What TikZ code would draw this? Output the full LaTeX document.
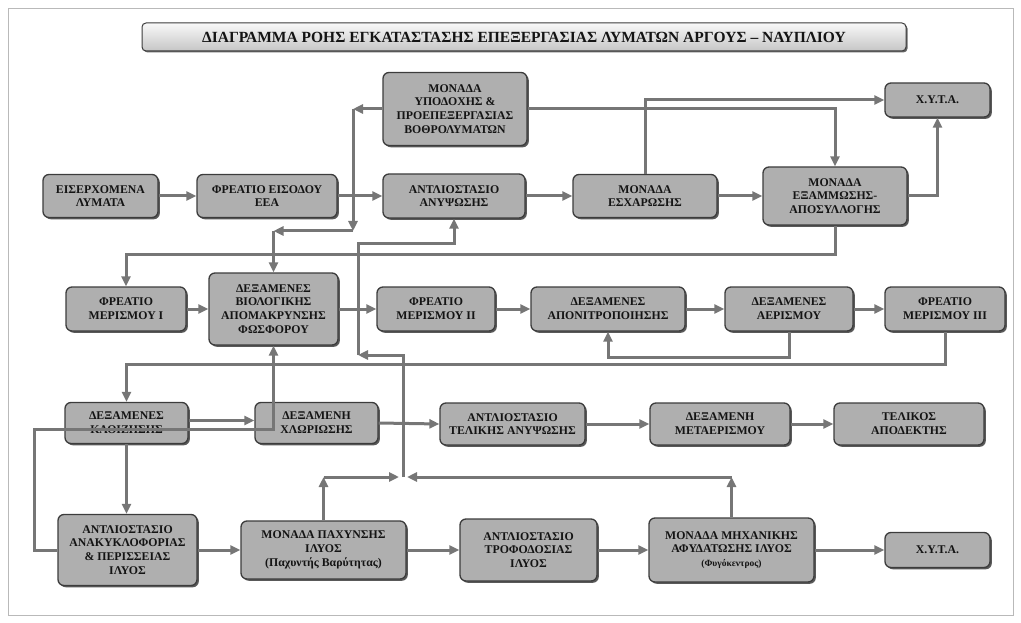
\documentclass[tikz,border=0pt]{standalone}
\usepackage{fontspec}
\setmainfont{Liberation Serif}
\usetikzlibrary{arrows.meta,shadows,calc}
\definecolor{boxfill}{RGB}{175,175,175}
\definecolor{boxdraw}{RGB}{60,60,60}
\definecolor{linecol}{RGB}{118,118,118}
\definecolor{txtcol}{RGB}{20,20,20}
\tikzset{
  procbox/.style={draw=boxdraw, line width=1.3pt, fill=boxfill, rounded corners=6pt,
    drop shadow={shadow xshift=1.8pt,shadow yshift=-1.8pt,fill=black!65,opacity=1},
    align=center, font=\bfseries\fontsize{11.8}{13.8}\selectfont, text=txtcol, inner sep=2pt},
  titlebox/.style={draw=boxdraw, line width=1pt, rounded corners=4pt, top color=gray!5, bottom color=gray!45,
    drop shadow={shadow xshift=1.5pt,shadow yshift=-1.5pt,fill=black!60,opacity=1},
    font=\bfseries\fontsize{15.5}{16}\selectfont, text=txtcol},
  conn/.style={draw=linecol, line width=3pt, -{Triangle[length=10pt,width=9pt]}},
  frameline/.style={draw=gray!55, line width=0.6pt},
}
\newcommand\mybox[6]{\node[procbox,minimum width=#4pt,minimum height=#5pt] (#1) at (#2,#3) {#6};}
\begin{document}
\begin{tikzpicture}[x=1pt,y=-1pt]
\useasboundingbox (0,0) rectangle (1021,623);
\draw[frameline] (8,8) rectangle (1013,615);
\node[titlebox, minimum width=764pt, minimum height=28pt] (title) at (524,37)
  {ΔΙΑΓΡΑΜΜΑ ΡΟΗΣ ΕΓΚΑΤΑΣΤΑΣΗΣ ΕΠΕΞΕΡΓΑΣΙΑΣ ΛΥΜΑΤΩΝ ΑΡΓΟΥΣ – ΝΑΥΠΛΙΟΥ};
% row 1
\mybox{in}{100.5}{196}{115}{43}{ΕΙΣΕΡΧΟΜΕΝΑ\\ΛΥΜΑΤΑ}
\mybox{fre}{267}{196}{140}{43}{ΦΡΕΑΤΙΟ ΕΙΣΟΔΟΥ\\ΕΕΑ}
\mybox{ant}{454}{196}{142}{44}{ΑΝΤΛΙΟΣΤΑΣΙΟ\\ΑΝΥΨΩΣΗΣ}
\mybox{esx}{645}{196}{144}{43}{ΜΟΝΑΔΑ\\ΕΣΧΑΡΩΣΗΣ}
\mybox{exa}{835}{196}{144}{58}{ΜΟΝΑΔΑ\\ΕΞΑΜΜΩΣΗΣ-\\ΑΠΟΣΥΛΛΟΓΗΣ}
\mybox{xyta1}{937.5}{100}{105}{34}{Χ.Υ.Τ.Α.}
\mybox{ypo}{455}{109}{144}{73}{ΜΟΝΑΔΑ\\ΥΠΟΔΟΧΗΣ \&\\ΠΡΟΕΠΕΞΕΡΓΑΣΙΑΣ\\ΒΟΘΡΟΛΥΜΑΤΩΝ}
% row 2
\mybox{mer1}{126}{309}{120}{44}{ΦΡΕΑΤΙΟ\\ΜΕΡΙΣΜΟΥ I}
\mybox{bio}{273.5}{309}{129}{72}{ΔΕΞΑΜΕΝΕΣ\\ΒΙΟΛΟΓΙΚΗΣ\\ΑΠΟΜΑΚΡΥΝΣΗΣ\\ΦΩΣΦΟΡΟΥ}
\mybox{mer2}{436}{309}{118}{44}{ΦΡΕΑΤΙΟ\\ΜΕΡΙΣΜΟΥ II}
\mybox{apon}{608}{309}{154}{44}{ΔΕΞΑΜΕΝΕΣ\\ΑΠΟΝΙΤΡΟΠΟΙΗΣΗΣ}
\mybox{aer}{789}{309}{128}{44}{ΔΕΞΑΜΕΝΕΣ\\ΑΕΡΙΣΜΟΥ}
\mybox{mer3}{945}{309}{120}{44}{ΦΡΕΑΤΙΟ\\ΜΕΡΙΣΜΟΥ III}
% row 3
\mybox{kath}{126.5}{423}{123}{41}{ΔΕΞΑΜΕΝΕΣ\\ΚΑΘΙΖΗΣΗΣ}
\mybox{xlo}{316.5}{423}{123}{41}{ΔΕΞΑΜΕΝΗ\\ΧΛΩΡΙΩΣΗΣ}
\mybox{tel}{512.5}{424}{145}{42}{ΑΝΤΛΙΟΣΤΑΣΙΟ\\ΤΕΛΙΚΗΣ ΑΝΥΨΩΣΗΣ}
\mybox{meta}{720}{424}{140}{42}{ΔΕΞΑΜΕΝΗ\\ΜΕΤΑΕΡΙΣΜΟΥ}
\mybox{apod}{909}{424}{150}{42}{ΤΕΛΙΚΟΣ\\ΑΠΟΔΕΚΤΗΣ}
% row 4
\mybox{anak}{127.5}{550}{139}{71}{ΑΝΤΛΙΟΣΤΑΣΙΟ\\ΑΝΑΚΥΚΛΟΦΟΡΙΑΣ\\\& ΠΕΡΙΣΣΕΙΑΣ\\ΙΛΥΟΣ}
\mybox{pax}{323.5}{550}{165}{58}{ΜΟΝΑΔΑ ΠΑΧΥΝΣΗΣ\\ΙΛΥΟΣ\\(Παχυντής Βαρύτητας)}
\mybox{trof}{528.5}{550}{137}{62}{ΑΝΤΛΙΟΣΤΑΣΙΟ\\ΤΡΟΦΟΔΟΣΙΑΣ\\ΙΛΥΟΣ}
\mybox{mix}{731.5}{550}{165}{64}{ΜΟΝΑΔΑ ΜΗΧΑΝΙΚΗΣ\\ΑΦΥΔΑΤΩΣΗΣ ΙΛΥΟΣ\\{\fontsize{9.5}{12}\selectfont (Φυγόκεντρος)}}
\mybox{xyta2}{937.5}{550}{105}{35}{Χ.Υ.Τ.Α.}
% coordinates
\coordinate (a1) at (353,109);
\coordinate (a2) at (353,231);
\coordinate (a3) at (273.5,231);
\coordinate (j) at (403,477);
\coordinate (r1) at (403,355);
\coordinate (r2) at (358,355);
\coordinate (r3) at (358,243);
% row 1 connectors
\draw[conn] (in.east) -- (fre.west);
\draw[conn] (fre.east) -- (ant.west);
\draw[conn] (ant.east) -- (esx.west);
\draw[conn] (esx.east) -- (exa.west);
\draw[conn] (exa.east) -| (xyta1.south);
\draw[conn] (esx.north) |- (xyta1.west);
\draw[conn] (ypo.east) -| (exa.north);
\draw[conn] (ypo.west) -- (a1);
\draw[conn] (a1) -- (a2);
\draw[conn] (a2) -- (a3);
\draw[conn] (a3) -- (bio.north);
\draw[conn] (exa.south) -- (835,254) -| (mer1.north);
% row 2 connectors
\draw[conn] (mer1.east) -- (bio.west);
\draw[conn] (bio.east) -- (mer2.west);
\draw[conn] (mer2.east) -- (apon.west);
\draw[conn] (apon.east) -- (aer.west);
\draw[conn] (aer.east) -- (mer3.west);
\draw[conn] (aer.south) -- (789,357) -| (apon.south);
\draw[conn] (mer3.south) -- (945,364) -| (kath.north);
% row 3 connectors
\draw[conn] ([yshift=2.5pt]kath.east) -- ([yshift=2.5pt]xlo.west);
\draw[conn] (xlo.east) -- (tel.west);
\draw[conn] (tel.east) -- (meta.west);
\draw[conn] (meta.east) -- (apod.west);
\draw[conn] (kath.south) -- (kath.south |- anak.north);
% row 4 connectors
\draw[conn] (anak.east) -- (pax.west);
\draw[conn] (pax.east) -- (trof.west);
\draw[conn] (trof.east) -- (mix.west);
\draw[conn] (mix.east) -- (xyta2.west);
% recirculation
\draw[conn] (anak.west) -- (34,550) -- (34,429) -| (bio.south);
% sludge liquor return
\draw[conn] (pax.north) -- (pax.north |- j);
\draw[conn] (pax.north |- j) -- ([xshift=-4pt]j);
\draw[conn] (mix.north) -- (mix.north |- j);
\draw[conn] (mix.north |- j) -- ([xshift=4pt]j);
\draw[conn] (j) -- (r1) -- (r2);
\draw[conn] (r2) -- (r3) -| (ant.south);
\end{tikzpicture}
\end{document}
